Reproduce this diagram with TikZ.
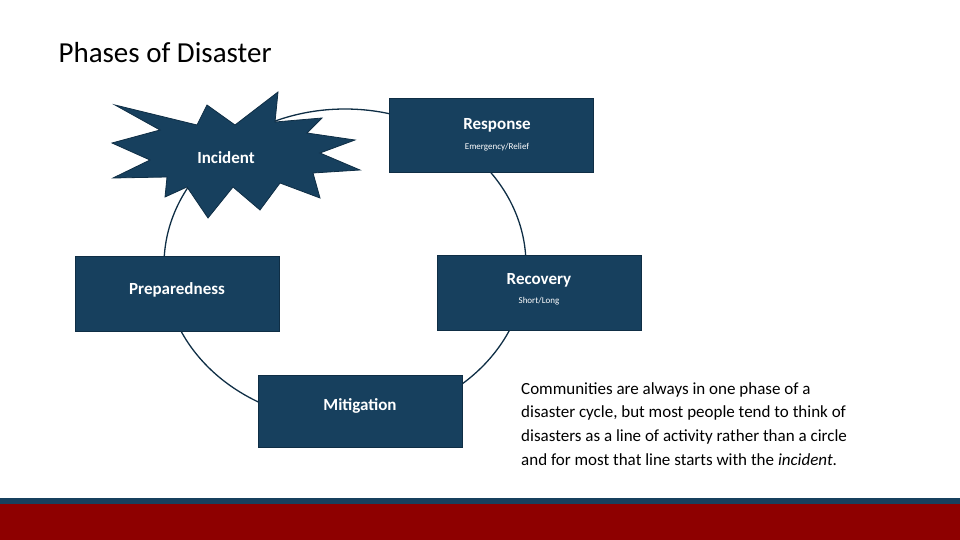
\documentclass[tikz,border=0pt]{standalone}
\usepackage{fontspec}
\setmainfont{Carlito}
\begin{document}
\begin{tikzpicture}[x=1pt,y=-1pt,
  blu/.style={fill=boxblue,draw=boxedge,line width=0.8pt},
  box/.style={blu,minimum width=204pt,inner sep=0pt,text=white},
  ttl/.style={font=\fontsize{17}{20}\selectfont\bfseries,text=white},
  sub/.style={font=\fontsize{9}{11}\selectfont,text=white}]
\definecolor{boxblue}{HTML}{17405E}
\definecolor{boxedge}{HTML}{0F2E45}
\definecolor{bandred}{HTML}{8E0000}
\useasboundingbox (0,0) rectangle (960,540);
\node[anchor=west,font=\fontsize{29}{34}\selectfont] (title) at (55,53) {Phases of Disaster};
% cycle
\draw[boxedge,line width=1.3pt] (345,265) ellipse [x radius=181, y radius=156];
% starburst
\draw[blu] (115,105)--(197,125)--(207,105)--(235,125)--(278,92)--(275,122)--(322,118)--(307,133)--(355,140)--(320,153)--(360,170)--(313,173)--(320,198)--(280,183)--(260,210)--(233,187)--(208,218)--(187,187)--(165,197)--(167,177)--(113,178)--(150,160)--(112,143)--(160,130)--cycle;
\node[ttl] (inc) at (226,158) {Incident};
% boxes
\node[box,minimum height=74pt] (resp) at (491,135) {};
\node[ttl] (respt) at (497,125) {Response};
\node[sub] (resps) at (497,147) {Emergency/Relief};
\node[box,minimum height=75pt] (rec) at (539,292.5) {};
\node[ttl] (rect) at (539,280) {Recovery};
\node[sub] (recs) at (539,301) {Short/Long};
\node[box,minimum height=75pt] (prep) at (177,293.5) {};
\node[ttl] (prept) at (177,290) {Preparedness};
\node[box,minimum height=72pt] (mit) at (360,411) {};
\node[ttl] (mitt) at (360,406) {Mitigation};
% paragraph
\node[anchor=north west,align=left,inner sep=0pt,font=\fontsize{17}{23.8}\selectfont] (para) at (521,382)
 {Communities are always in one phase of a\\disaster cycle, but most people tend to think of\\disasters as a line of activity rather than a circle\\and for most that line starts with the \textit{incident}.};
% bands
\fill[boxblue] (0,498) rectangle (960,504);
\fill[bandred] (0,504) rectangle (960,540);
\end{tikzpicture}
\end{document}
